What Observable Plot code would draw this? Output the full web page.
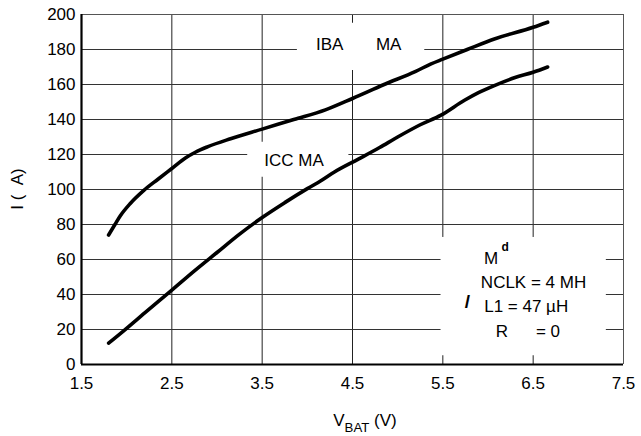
<!DOCTYPE html>
<html><head><meta charset="utf-8">
<script src="https://cdn.jsdelivr.net/npm/d3@7"></script>
<script src="https://cdn.jsdelivr.net/npm/@observablehq/plot@0.6"></script>
<style>body{margin:0;background:#fff}</style>
</head><body><div id="chart"></div>
<script>
// ---- data ----
const xTicks = [1.5, 2.5, 3.5, 4.5, 5.5, 6.5, 7.5];
const yTicks = [0, 20, 40, 60, 80, 100, 120, 140, 160, 180, 200];
const ibaV = [1.80,1.87,1.93,2.04,2.19,2.35,2.50,2.65,2.76,2.90,3.15,3.50,3.85,4.20,4.50,4.85,5.20,5.37,5.50,5.77,6.07,6.50,6.66];
const ibaI = [74,80,85,92,99.5,106,112,118,121.3,124.5,129,134.5,140,145.5,152,160,167.5,171.8,174.5,180,186,192.7,195.6];
const iccV = [1.80,1.97,2.20,2.50,2.75,3.00,3.25,3.50,3.75,4.00,4.15,4.30,4.57,4.80,5.00,5.25,5.48,5.74,5.90,6.07,6.30,6.50,6.66];
const iccI = [12.2,19.4,29.5,42.5,53.5,64,74.5,84,92.5,100.5,105,110,117.5,124,130,137,142.5,151,155.5,159.4,164,167,170];
const curveLabels = ["IBA", "MA", "ICC MA"];
const noteLines = ["M", "NCLK = 4 MH", "L1 = 47 \u00b5H", "R", "= 0"];

function hasFont(name){
  const c = document.createElement("canvas").getContext("2d");
  const s = "NCLK 200 abcWw";
  c.font = "40px monospace"; const a = c.measureText(s).width;
  c.font = `40px '${name}', monospace`; const b = c.measureText(s).width;
  return Math.abs(a-b) > 0.5;
}
const narrow = hasFont("Liberation Sans Narrow");
const FONT = narrow ? "'Liberation Sans Narrow', 'Arial Narrow', sans-serif" : "'Liberation Sans', Arial, sans-serif";
const FS = narrow ? 20 : 17;

const iba = ibaV.map((v,i)=>({v, I: ibaI[i]}));
const icc = iccV.map((v,i)=>({v, I: iccI[i]}));

const boxes = [
  {x1:3.89, x2:5.30, y1:168, y2:195},
  {x1:3.34, x2:4.46, y1:107, y2:127},
  {x1:5.48, x2:7.31, y1:5, y2:72.6}
];
const centeredTexts = [
  {t: curveLabels[0], x: 4.248, y: 183},
  {t: curveLabels[1], x: 4.90, y: 183},
  {t: curveLabels[2], x: 3.853, y: 116.6}
];
const startTexts = [
  {t: noteLines[0], x: 5.955, y: 60.6},
  {t: noteLines[1], x: 5.921, y: 46.7},
  {t: noteLines[2], x: 5.958, y: 33},
  {t: noteLines[3], x: 6.087, y: 18.7},
  {t: noteLines[4], x: 6.53, y: 18.7}
];
const glyphs = [
  {t: "d", x: 6.19, y: 67},
  {t: "/", x: 5.773, y: 35.6}
];

const chart = Plot.plot({
  width: 641, height: 436,
  marginLeft: 81, marginRight: 18, marginTop: 14, marginBottom: 72,
  style: {fontFamily: FONT, fontSize: FS + "px", color: "#000", background: "#fff"},
  x: {type: "linear", domain: [1.5, 7.5]},
  y: {type: "linear", domain: [0, 200]},
  marks: [
    Plot.ruleX(xTicks.filter(d => d > 1.5 && d < 7.5), {stroke: "#222", strokeWidth: 1}),
    Plot.ruleY(yTicks.filter(d => d > 0 && d < 200), {stroke: "#333", strokeWidth: 1}),
    Plot.ruleX([7.5], {stroke: "#555", strokeWidth: 1}),
    Plot.ruleY([200], {stroke: "#555", strokeWidth: 1}),
    Plot.rect(boxes, {x1: "x1", x2: "x2", y1: "y1", y2: "y2", fill: "#fff"}),
    Plot.ruleX([1.5], {stroke: "#000", strokeWidth: 2.2}),
    Plot.ruleY([0], {stroke: "#000", strokeWidth: 2.2}),
    Plot.line(iba, {x: "v", y: "I", stroke: "#000", strokeWidth: 3.6, curve: "monotone-x", strokeLinecap: "round"}),
    Plot.line(icc, {x: "v", y: "I", stroke: "#000", strokeWidth: 3.6, curve: "monotone-x", strokeLinecap: "round"}),
    Plot.text(centeredTexts, {x: "x", y: "y", text: "t", textAnchor: "middle", lineAnchor: "middle", fill: "#000", fontSize: FS}),
    Plot.text(startTexts, {x: "x", y: "y", text: "t", textAnchor: "start", lineAnchor: "middle", fill: "#000", fontSize: FS}),
    Plot.text(glyphs.slice(0,1), {x: "x", y: "y", text: "t", fontWeight: "bold", fontSize: Math.round(FS * 0.7), fill: "#000"}),
    Plot.text(glyphs.slice(1), {x: "x", y: "y", text: "t", fontWeight: "bold", fontSize: Math.round(FS * 1.1), fill: "#000"}),
    Plot.axisX(xTicks, {tickSize: 0, tickPadding: 12, tickFormat: d => d.toFixed(1), label: null, fontSize: FS}),
    Plot.axisY(yTicks, {tickSize: 0, tickPadding: 6, label: null, fontSize: FS})
  ]
});
document.getElementById("chart").append(chart);

const svg = d3.select(chart.tagName.toLowerCase() === "svg" ? chart : chart.querySelector("svg"));
const xl = svg.append("text")
  .attr("x", 365).attr("y", 426)
  .attr("text-anchor", "middle")
  .attr("font-family", FONT).attr("font-size", FS).attr("fill", "#000");
xl.append("tspan").text("V");
xl.append("tspan").attr("font-size", FS * 0.78).attr("dy", 6).text("BAT");
xl.append("tspan").attr("dy", -6).text(" (V)");
svg.append("text")
  .attr("transform", "translate(19,189) rotate(-90)")
  .attr("text-anchor", "middle").attr("dominant-baseline", "middle")
  .attr("font-family", FONT).attr("font-size", FS).attr("fill", "#000")
  .text("I (\u00a0\u00a0A)");
</script>
</body></html>
